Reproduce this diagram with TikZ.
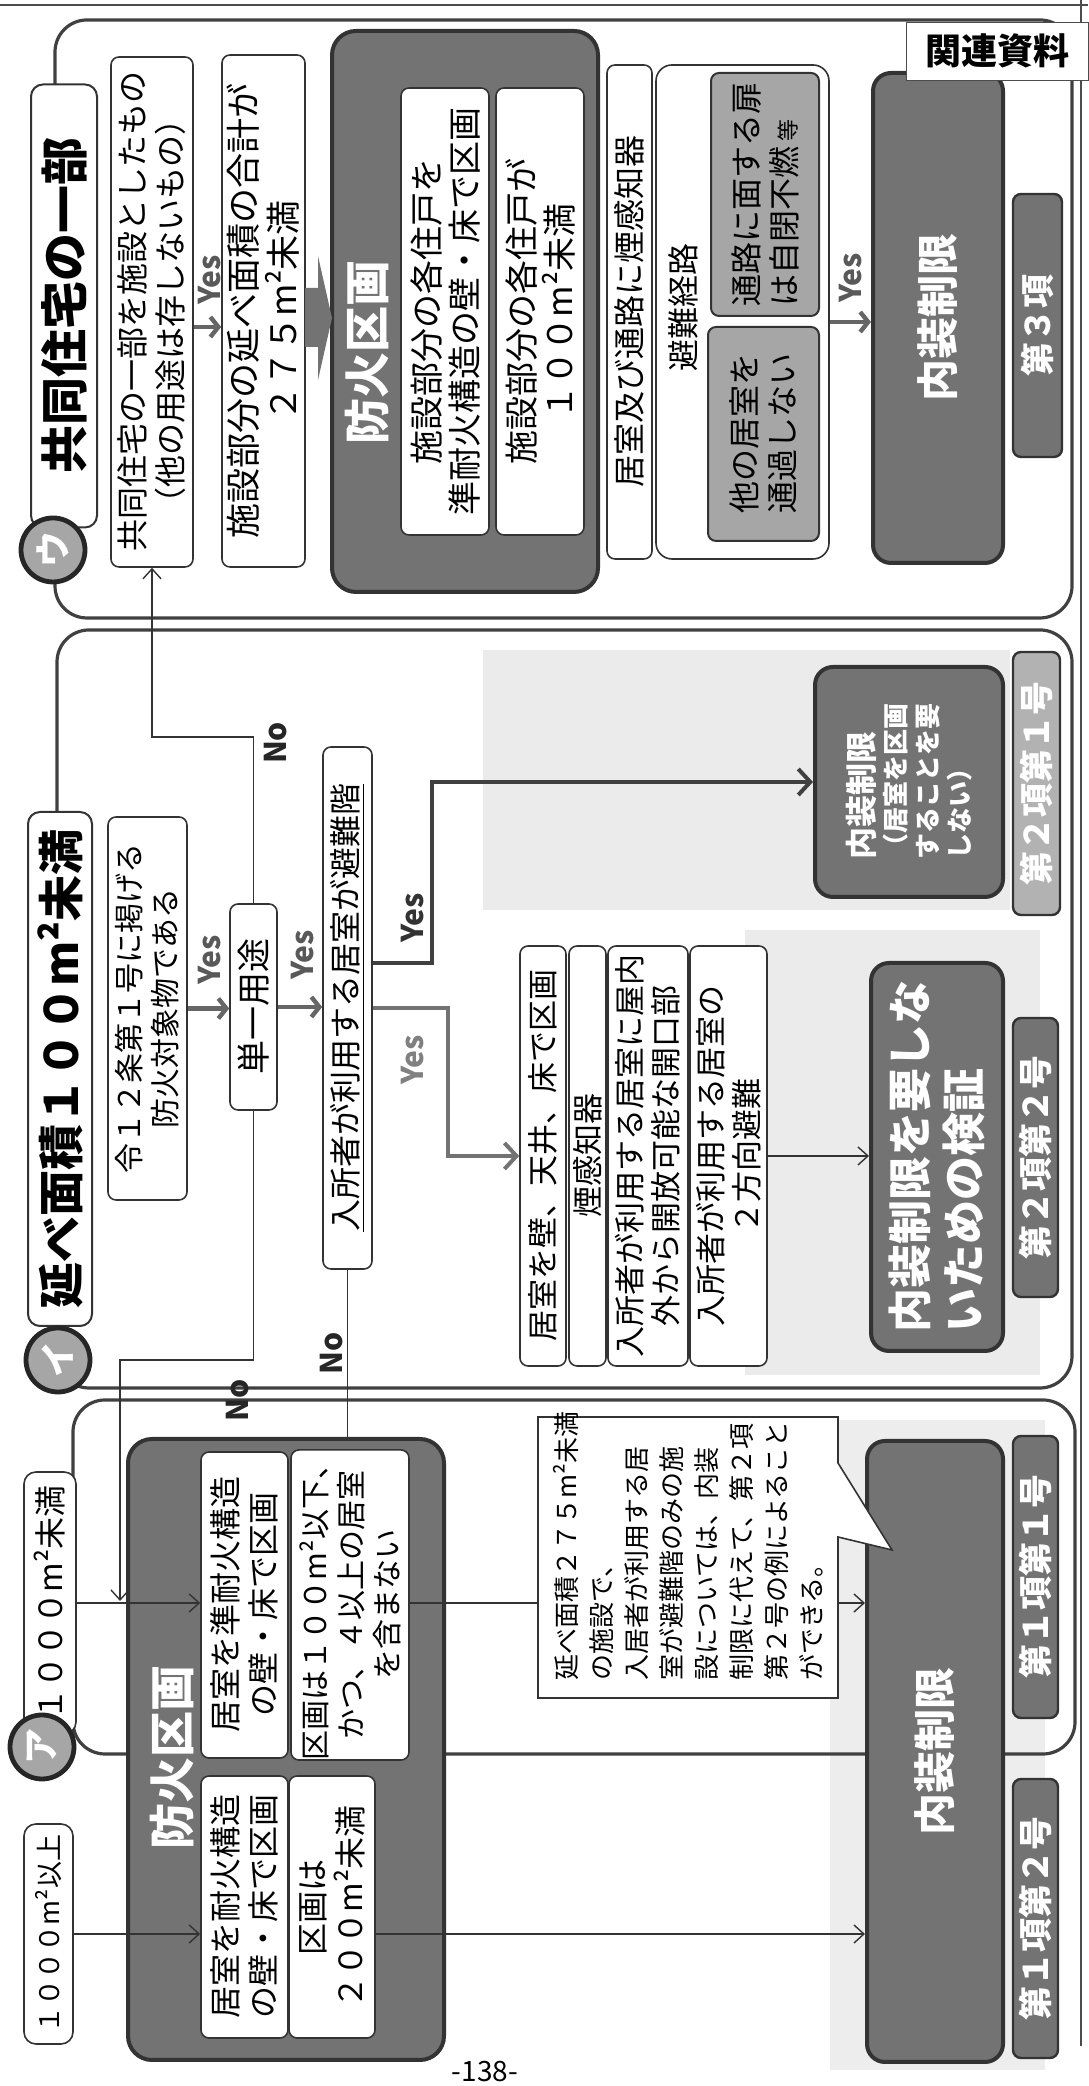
\documentclass[tikz,border=0pt]{standalone}
\usepackage{fontspec}
\setmainfont{Noto Sans CJK JP}
\usetikzlibrary{arrows.meta}
\newcommand{\fsz}[2]{\fontsize{#1}{#2}\selectfont}

\tikzstyle{frame line}=[
    draw = black!75,
    line width = 1.6pt,
    rounded corners = 16pt
]
\tikzstyle{white box}=[
    draw = black!80,
    line width = 0.8pt,
    fill = white,
    rounded corners = 4pt,
    inner sep = 0pt,
    align = center,
    font = \fsz{16}{19}
]
\tikzstyle{grey box}=[
    white box,
    fill = black!35,
    line width = 1pt
]
\tikzstyle{dark box}=[
    draw = black!80,
    line width = 2pt,
    fill = black!55,
    rounded corners = 9pt,
    inner sep = 0pt,
    align = center,
    text = white,
    font = \fsz{21}{25}\bfseries
]
\tikzstyle{item label}=[
    dark box,
    line width = 1.2pt,
    rounded corners = 4pt,
    font = \fsz{17}{17}\bfseries
]
\tikzstyle{title tab}=[
    white box,
    line width = 1pt,
    rounded corners = 6pt,
    font = \fsz{23}{23}\bfseries
]
\tikzstyle{letter disc}=[
    circle,
    draw = black!85,
    line width = 2.4pt,
    fill = black!35,
    text = white,
    minimum size = 32pt,
    inner sep = 0pt,
    font = \fsz{18}{18}\bfseries
]
\tikzstyle{thin arrow}=[
    draw = black!80,
    line width = 0.7pt,
    -{Straight Barb[length=5pt, width=9pt]}
]
\tikzstyle{yes arrow}=[
    draw = black!60,
    line width = 2.2pt,
    -{Straight Barb[length=4pt, width=10pt]}
]
\tikzstyle{branch arrow}=[
    draw = black!75,
    line width = 2pt,
    -{Straight Barb[length=6pt, width=13pt]}
]
\tikzstyle{yes text}=[font = \fsz{15}{15}\bfseries, text = black!65]
\tikzstyle{no text}=[font = \fsz{15}{15}\bfseries, text = black!85]

\begin{document}
\begin{tikzpicture}[sz/.style 2 args = {minimum width = #1*0.5pt, minimum height = #2*0.5pt}]
\begin{scope}[rotate = 90, transform shape, x = 0.5pt, y = -0.5pt]
\useasboundingbox (0,0) rectangle (2086,1088);

\fill[black!8] (1176,483) rectangle (1436,1010);
\fill[black!8] (711,745) rectangle (1156,1040);
\fill[black!7] (16,830) rectangle (666,1045);

\draw[black!70, line width = 0.8pt] (2081,0) -- (2081,1088);
\draw[black!70, line width = 0.8pt] (40,1081) -- (2086,1081);

\draw[frame line] (1468,55) rectangle (2066,1072);
\draw[frame line] (698,57) rectangle (1456,1072);
\draw[frame line] (332,73) rectangle (686,1075);

% ウ
\node[title tab, sz = {443}{66}, font = \fsz{24}{24}\bfseries] (tabU) at (1780,64) {共同住宅の一部};
\node[letter disc] (discU) at (1536,53) {ウ};
\node[white box, sz = {510}{82}] (wu1) at (1774,152) {共同住宅の一部を施設としたもの\\（他の用途は存しないもの）};
\node[white box, sz = {512}{83}, font = \fsz{17.5}{20}] (wu2) at (1775,263.5) {施設部分の延べ面積の合計が\\２７５m²未満};
\node[dark box, sz = {561}{266}, rounded corners = 12pt] (bouU) at (1774.5,465) {};
\node[text = white, font = \fsz{23}{23}\bfseries] (bouUt) at (1733,367) {防火区画};
\node[white box, sz = {447}{88}, font = \fsz{17}{19}] (wu3) at (1774.5,445) {施設部分の各住戸を\\準耐火構造の壁・床で区画};
\node[white box, sz = {447}{88}, font = \fsz{17}{19}] (wu4) at (1774.5,540) {施設部分の各住戸が\\１００m²未満};
\node[white box, sz = {494}{45}] (wu5) at (1774,629.5) {居室及び通路に煙感知器};
\node[white box, sz = {494}{173}, rounded corners = 8pt] (hinan) at (1774,742.5) {};
\node[font = \fsz{16}{16}] (hinant) at (1778,683) {避難経路};
\node[grey box, sz = {214}{111}] (gu1) at (1652,763.5) {他の居室を\\通過しない};
\node[grey box, sz = {243}{108}, align = left] (gu2) at (1891.5,765) {通路に面する扉\\は自閉不燃\,{\fsz{11}{11}等}};
\node[dark box, sz = {490}{130}] (naiU) at (1768,938) {内装制限};
\node[item label, sz = {263}{49}] (lblU) at (1760.5,1037.5) {第３項};
\node[yes text] (yesU1) at (1806,210) {Yes};
\node[yes text] (yesU2) at (1808,851) {Yes};
\coordinate (yu1) at (1759,0);
\coordinate (yu2) at (1764,0);

% イ
\node[title tab, sz = {514}{64}] (tabI) at (1017,60) {延べ面積１００m²未満};
\node[letter disc] (discI) at (726,58) {イ};
\node[white box, sz = {383}{79}, font = \fsz{15}{18}] (rei) at (1077.5,147.5) {令１２条第１号に掲げる\\防火対象物である};
\node[white box, sz = {206}{47}, font = \fsz{17}{17}] (tan) at (1079,253.5) {単一用途};
\node[white box, sz = {522}{49}] (nyu) at (1078,347.5) {\underline{入所者が利用する居室が避難階}};
\node[white box, sz = {420}{46}, font = \fsz{15.5}{18}] (st1) at (930,543) {居室を壁、天井、床で区画};
\node[white box, sz = {420}{37}, font = \fsz{15.5}{18}] (st2) at (930,587.5) {煙感知器};
\node[white box, sz = {420}{80}, font = \fsz{15.5}{18}] (st3) at (930,648) {入所者が利用する居室に屋内\\外から開放可能な開口部};
\node[white box, sz = {420}{77}, font = \fsz{15.5}{18}] (st4) at (930,728.5) {入所者が利用する居室の\\２方向避難};
\node[dark box, sz = {388}{132}, align = left, font = \fsz{22}{27}\bfseries] (nak3) at (929,937) {内装制限を要しな\\いための検証};
\node[item label, sz = {279}{45}] (lbl22) at (928.5,1035.5) {第２項第２号};
\node[dark box, sz = {230}{188}, align = left, font = \fsz{13}{16}\bfseries] (nak2) at (1304,909) {{\fsz{16}{20}\bfseries 内装制限}\\（居室を区画\\することを要\\しない）};
\node[item label, sz = {263}{47}, fill = black!30] (lbl21) at (1302.5,1036.5) {第２項第１号};
\node[yes text] (yesI1) at (1126,210) {Yes};
\node[yes text] (yesI2) at (1131,303) {Yes};
\node[yes text, text = black!80] (yesI3) at (1168,413) {Yes};
\node[yes text, text = black!50] (yesI4) at (1026,413) {Yes};
\node[no text] (noI1) at (1343,276) {No};
\node[no text] (noI2) at (686,238) {No};
\node[no text] (noI3) at (733,332) {No};
\coordinate (no1) at (1349,253.5);
\coordinate (no2) at (726,253.5);
\coordinate (no2e) at (485,120);
\coordinate (ys1) at (1123,432);
\coordinate (ys2) at (1078,448);

% ア
\node[white box, sz = {220}{49}, rounded corners = 6pt, font = \fsz{13.5}{13.5}] (tabAup) at (152,48.5) {１０００m²以上};
\node[white box, sz = {262}{52}, rounded corners = 6pt] (tabAdn) at (483,50) {１０００m²未満};
\node[letter disc] (discA) at (339,42) {ア};
\node[dark box, sz = {621}{316}, rounded corners = 12pt] (bouA) at (336.5,286) {};
\node[text = white, font = \fsz{23}{23}\bfseries] (bouAt) at (328,172) {防火区画};
\node[white box, sz = {262}{87}] (a1) at (179,244.5) {居室を耐火構造\\の壁・床で区画};
\node[white box, sz = {262}{86}] (a2) at (179,332) {区画は\\２００m²未満};
\node[white box, sz = {306}{87}] (a3) at (481,244.5) {居室を準耐火構造\\の壁・床で区画};
\node[white box, sz = {306}{118}, font = \fsz{15}{18}] (a4) at (481,350) {区画は１００m²以下、\\かつ、４以上の居室\\を含まない};
\node[dark box, sz = {621}{136}] (naiA) at (334.5,935) {内装制限};
\node[item label, sz = {282}{45}] (lbl11) at (509,1035.5) {第１項第１号};
\node[item label, sz = {279}{45}] (lbl12) at (167.5,1035.5) {第１項第２号};

% connectors
\draw[yes arrow] (wu1.south -| yu1) -- (wu2.north -| yu1);
\fill[black!55] (1739,305) -- (1798,305) -- (1798,318) -- (1830,318) -- (1768,332) -- (1706,318) -- (1739,318) -- cycle;
\draw[yes arrow] (hinan.south -| yu2) -- (naiU.north -| yu2);

\draw[yes arrow] (rei.south) -- (rei.south |- tan.north);
\draw[yes arrow] (tan.south) -- (tan.south |- nyu.north);
\draw[thin arrow] (tan.east) -- (no1) |- (wu1.west);
\draw[thin arrow] (tan.west) -- (no2) |- (no2e);
\draw[black!80, line width = 0.7pt] (nyu.west) -- (nyu.west -| bouA.east);
\draw[branch arrow] (nyu.south -| ys1) -- (ys1) -| (nak2.north);
\draw[branch arrow, draw = black!55] (nyu.south -| ys2) -- (ys2) -| (st1.north);
\draw[thin arrow] (st4.south) -- (st4.south |- nak3.north);

\draw[thin arrow] (tabAup.south) -- (tabAup.south |- a1.north);
\draw[thin arrow] (tabAdn.south) -- (tabAdn.south |- a3.north);
\draw[thin arrow] (a2.south -| tabAup) -- (naiA.north -| tabAup);
\draw[thin arrow] (a4.south -| tabAdn) -- (naiA.north -| tabAdn);

\draw[fill = white, draw = black!80, line width = 0.8pt] (388,538) -- (669,538) -- (669,838) -- (623,838) -- (536,892) -- (549,838) -- (388,838) -- cycle;
\node[anchor = west, align = left, inner sep = 0pt, font = \fsz{13}{17.5}] (note) at (405,688) {延べ面積２７５m²未満\\の施設で、\\入居者が利用する居\\室が避難階のみの施\\設については、内装\\制限に代えて、第２項\\第２号の例によること\\ができる。};

\node[draw = black!70, fill = white, rotate = -90, sz = {182}{58}, font = \fsz{18}{18}\bfseries] (head) at (2035,997) {関連資料};
\node[rotate = -90, font = \fsz{14}{14}] (page) at (14,485) {-138-};
\end{scope}
\end{tikzpicture}
\end{document}
